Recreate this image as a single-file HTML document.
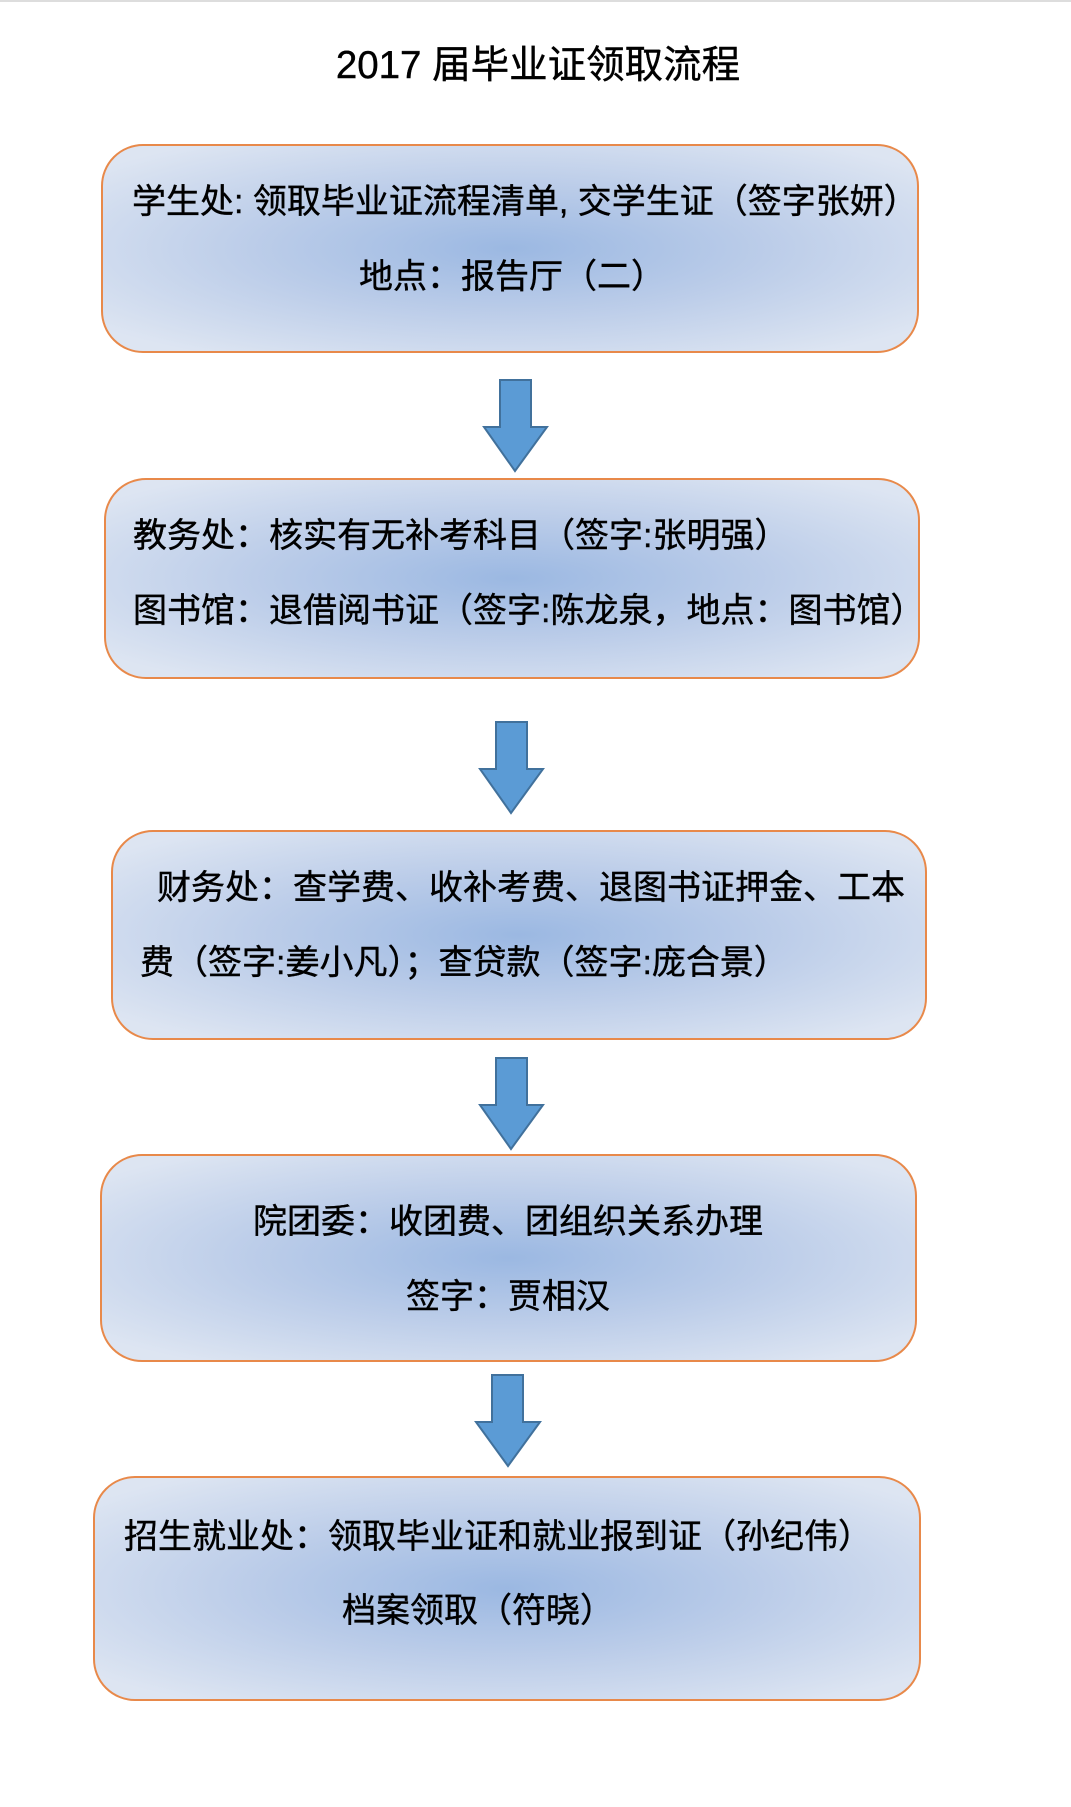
<!DOCTYPE html>
<html><head><meta charset="utf-8"><style>
html,body{margin:0;padding:0;background:#fff;}
body{width:1071px;height:1807px;position:relative;overflow:hidden;font-family:"Liberation Sans","Noto Sans CJK SC",sans-serif;color:#000;}
.top{position:absolute;left:0;top:0;width:1071px;height:2px;background:#ddd;}
.box{position:absolute;border:2px solid #e8894a;border-radius:42px;box-sizing:border-box;background:radial-gradient(ellipse at center,#9bb8e2 0%,#bccde9 45%,#dde5f2 90%);}
.t{position:absolute;white-space:nowrap;font-size:34px;line-height:40px;height:40px;-webkit-text-stroke:0.4px #000;}
.c{transform:translateX(-50%);}
svg{position:absolute;left:0;top:0;}
</style></head><body>
<div class="top"></div>
<div class="t c" style="left:538px;top:46px;font-size:38.5px;">2017 届毕业证领取流程</div>

<div class="box" style="left:101px;top:144px;width:818px;height:209px;"></div>
<div class="t" style="left:132px;top:182px;">学生处: 领取毕业证流程清单, 交学生证（签字张妍）</div>
<div class="t c" style="left:512px;top:257px;">地点：报告厅（二）</div>

<div class="box" style="left:104px;top:478px;width:816px;height:201px;"></div>
<div class="t" style="left:133px;top:516px;">教务处：核实有无补考科目（签字:张明强）</div>
<div class="t" style="left:133px;top:591px;">图书馆：退借阅书证（签字:陈龙泉，地点：图书馆）</div>

<div class="box" style="left:111px;top:830px;width:816px;height:210px;"></div>
<div class="t" style="left:157px;top:868px;">财务处：查学费、收补考费、退图书证押金、工本</div>
<div class="t" style="left:140px;top:943px;">费（签字:姜小凡）；查贷款（签字:庞合景）</div>

<div class="box" style="left:100px;top:1154px;width:817px;height:208px;"></div>
<div class="t c" style="left:508px;top:1202px;">院团委：收团费、团组织关系办理</div>
<div class="t c" style="left:508px;top:1277px;">签字：贾相汉</div>

<div class="box" style="left:93px;top:1476px;width:828px;height:225px;"></div>
<div class="t" style="left:124px;top:1517px;">招生就业处：领取毕业证和就业报到证（孙纪伟）</div>
<div class="t" style="left:342px;top:1591px;">档案领取（符晓）</div>

<svg width="1071" height="1807">
<g fill="#5b9bd5" stroke="#41719c" stroke-width="2">
<polygon points="500,380 531,380 531,427 547,427 515,471 484,427 500,427"/>
<polygon points="496,722 527,722 527,769 543,769 511,813 480,769 496,769"/>
<polygon points="496,1058 527,1058 527,1105 543,1105 511,1149 480,1105 496,1105"/>
<polygon points="492,1375 523,1375 523,1422 540,1422 508,1466 476,1422 492,1422"/>
</g>
</svg>
</body></html>
